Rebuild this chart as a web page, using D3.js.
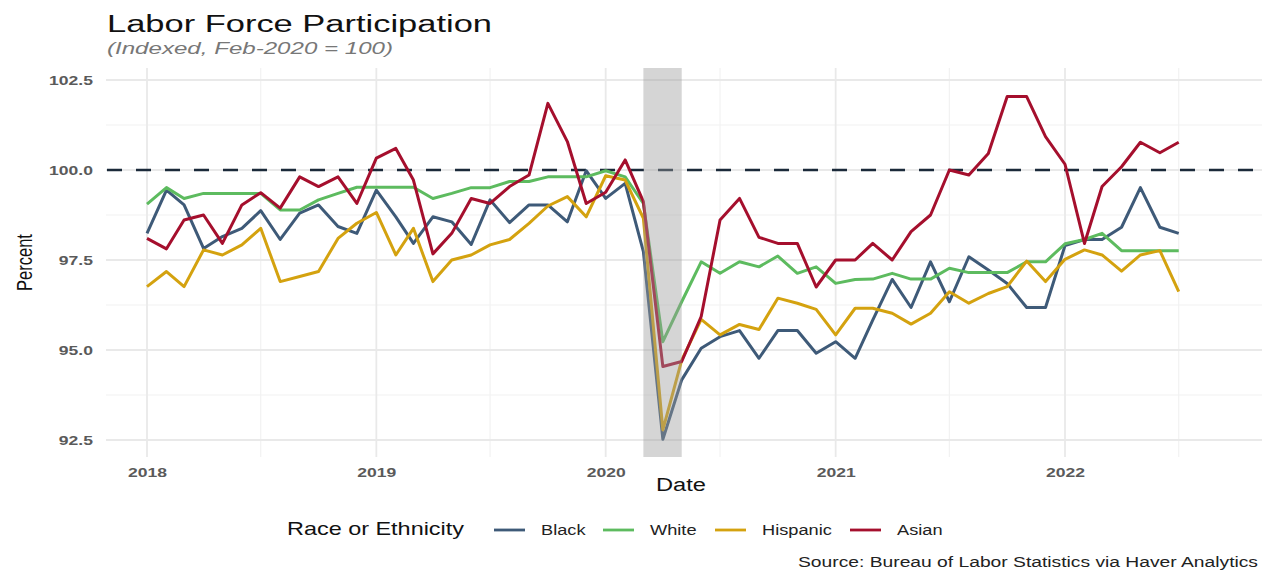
<!DOCTYPE html>
<html>
<head>
<meta charset="utf-8">
<script src="https://cdn.jsdelivr.net/npm/d3@7"></script>
<style>
  html, body { margin: 0; padding: 0; background: #fff; }
  svg { display: block; font-family: "Liberation Sans", Arial, sans-serif; }
</style>
</head>
<body>
<svg id="chart" width="1266" height="572"></svg>
<script>
// ---- Data (monthly, Jan 2018 .. Jul 2022) ----
const startYear = 2018, startMonth = 0, nMonths = 55;
const seriesNames = ["Black", "White", "Hispanic", "Asian"];
const seriesColors = ["#3e5a78", "#5dbb5f", "#d4a20f", "#a50f2d"];

const black = [98.24, 99.44, 99.03, 97.82, 98.15, 98.38, 98.87, 98.07, 98.80, 99.03, 98.43, 98.24,
  99.44, 98.70, 97.96, 98.70, 98.56, 97.93, 99.17, 98.54, 99.03, 99.03, 98.56, 99.98,
  99.21, 99.63, 97.73, 92.52, 94.17, 95.05, 95.37, 95.54, 94.77, 95.54, 95.54, 94.91,
  95.23, 94.77, 95.83, 96.96, 96.18, 97.45, 96.34, 97.59, 97.22, 96.85, 96.18, 96.18,
  97.90, 98.07, 98.07, 98.41, 99.51, 98.41, 98.24];
const white = [99.05, 99.51, 99.21, 99.35, 99.35, 99.35, 99.35, 98.89, 98.89, 99.17, 99.35, 99.52,
  99.52, 99.52, 99.52, 99.21, 99.35, 99.51, 99.51, 99.68, 99.68, 99.81, 99.81, 99.81,
  99.98, 99.81, 99.07, 95.23, 96.34, 97.45, 97.13, 97.45, 97.31, 97.61, 97.13, 97.31,
  96.85, 96.96, 96.97, 97.13, 96.97, 96.97, 97.27, 97.15, 97.15, 97.15, 97.45, 97.45,
  97.95, 98.07, 98.24, 97.76, 97.76, 97.76, 97.76];
const hispanic = [96.76, 97.18, 96.76, 97.78, 97.64, 97.92, 98.38, 96.90, 97.04, 97.18, 98.10, 98.52,
  98.82, 97.64, 98.38, 96.90, 97.50, 97.64, 97.92, 98.07, 98.52, 99.00, 99.26, 98.70,
  99.84, 99.72, 98.66, 92.78, 94.72, 95.85, 95.42, 95.71, 95.57, 96.44, 96.30, 96.13,
  95.42, 96.16, 96.16, 96.02, 95.72, 96.02, 96.62, 96.30, 96.57, 96.76, 97.47, 96.90,
  97.52, 97.78, 97.64, 97.19, 97.64, 97.76, 96.62];
const asian = [98.10, 97.81, 98.61, 98.75, 97.96, 99.03, 99.37, 98.94, 99.81, 99.54, 99.81, 99.07,
  100.33, 100.60, 99.72, 97.67, 98.24, 99.21, 99.07, 99.54, 99.86, 101.85, 100.79, 99.07,
  99.38, 100.28, 99.12, 94.54, 94.68, 95.93, 98.61, 99.21, 98.13, 97.96, 97.96, 96.75,
  97.50, 97.50, 97.96, 97.50, 98.29, 98.75, 100.00, 99.86, 100.46, 102.04, 102.04, 100.93,
  100.16, 97.96, 99.54, 100.09, 100.77, 100.48, 100.77];
const seriesValues = [black, white, hispanic, asian];

const yearTicks = [2018, 2019, 2020, 2021, 2022];
const yTicks = [92.5, 95.0, 97.5, 100.0, 102.5];
const yMinorTicks = [93.75, 96.25, 98.75, 101.25];
const baseline = 100;
const recession = [new Date(2020, 2, 1), new Date(2020, 4, 1)];

const titleText = "Labor Force Participation";
const subtitleText = "(Indexed, Feb-2020 = 100)";
const yLabel = "Percent";
const xLabel = "Date";
const legendTitle = "Race or Ethnicity";
const sourceText = "Source: Bureau of Labor Statistics via Haver Analytics";

// ---- Layout ----
const svg = d3.select("#chart");
const panel = { left: 106, right: 1262, top: 68, bottom: 457 };
const SX = 1.3; // horizontal text stretch of the reference

function stretch(sel, factor) {
  sel.each(function () {
    const w = this.getComputedTextLength();
    d3.select(this).attr("textLength", w * factor).attr("lengthAdjust", "spacingAndGlyphs");
  });
}
function fitTo(sel, width) {
  sel.attr("textLength", width).attr("lengthAdjust", "spacingAndGlyphs");
}

const dates = d3.range(nMonths).map(i => new Date(startYear, startMonth + i, 1));

const xRef = d3.scaleTime()
  .domain([new Date(2018, 0, 1), new Date(2022, 0, 1)])
  .range([147, 1065]);
const x = d3.scaleTime()
  .domain([xRef.invert(panel.left), xRef.invert(panel.right)])
  .range([panel.left, panel.right]);
const y = d3.scaleLinear()
  .domain([100 - (panel.bottom - 170) / 36, 100 + (170 - panel.top) / 36])
  .range([panel.bottom, panel.top]);

// ---- Gridlines ----
const grid = svg.append("g");
const xMinor = yearTicks.map(yr => new Date(yr, 6, 1));
grid.selectAll(".vminor").data(xMinor).join("line")
  .attr("x1", d => x(d)).attr("x2", d => x(d))
  .attr("y1", panel.top).attr("y2", panel.bottom)
  .attr("stroke", "#f2f2f2").attr("stroke-width", 1.2);
grid.selectAll(".hminor").data(yMinorTicks).join("line")
  .attr("x1", panel.left).attr("x2", panel.right)
  .attr("y1", d => y(d)).attr("y2", d => y(d))
  .attr("stroke", "#f2f2f2").attr("stroke-width", 1.2);
grid.selectAll(".vmajor").data(yearTicks).join("line")
  .attr("x1", d => x(new Date(d, 0, 1))).attr("x2", d => x(new Date(d, 0, 1)))
  .attr("y1", panel.top).attr("y2", panel.bottom)
  .attr("stroke", "#e9e9e9").attr("stroke-width", 1.8);
grid.selectAll(".hmajor").data(yTicks).join("line")
  .attr("x1", panel.left).attr("x2", panel.right)
  .attr("y1", d => y(d)).attr("y2", d => y(d))
  .attr("stroke", "#e9e9e9").attr("stroke-width", 1.8);

// ---- Axes (text only, like ggplot theme_minimal) ----
const xAxis = d3.axisBottom(x)
  .tickValues(yearTicks.map(yr => new Date(yr, 0, 1)))
  .tickFormat(d3.timeFormat("%Y")).tickSize(0).tickPadding(10);
const gx = svg.append("g").attr("transform", `translate(0,${panel.bottom})`).call(xAxis);
gx.select(".domain").remove();
gx.selectAll("text").attr("font-size", 13.5).attr("fill", "#5a5a5a")
  .attr("font-family", "Liberation Sans, Arial, sans-serif").attr("font-weight", "bold");
stretch(gx.selectAll("text"), SX);

const yAxis = d3.axisLeft(y).tickValues(yTicks).tickFormat(d3.format(".1f"))
  .tickSize(0).tickPadding(13);
const gy = svg.append("g").attr("transform", `translate(${panel.left},0)`).call(yAxis);
gy.select(".domain").remove();
gy.selectAll("text").attr("font-size", 13.5).attr("fill", "#5a5a5a")
  .attr("font-family", "Liberation Sans, Arial, sans-serif").attr("font-weight", "bold");
stretch(gy.selectAll("text"), SX);

// ---- Baseline ----
svg.append("line")
  .attr("x1", panel.left).attr("x2", panel.right)
  .attr("y1", y(baseline)).attr("y2", y(baseline))
  .attr("stroke", "#1b2a3a").attr("stroke-width", 2.6)
  .attr("stroke-dasharray", "15,14").attr("stroke-dashoffset", -1);

// ---- Lines ----
const line = d3.line().x((d, i) => x(dates[i])).y(d => y(d));
svg.append("g").selectAll("path").data(seriesValues).join("path")
  .attr("d", d => line(d))
  .attr("fill", "none")
  .attr("stroke", (d, i) => seriesColors[i])
  .attr("stroke-width", 3)
  .attr("stroke-linejoin", "round");

// ---- Recession shading ----
svg.append("rect")
  .attr("x", x(recession[0])).attr("width", x(recession[1]) - x(recession[0]))
  .attr("y", panel.top).attr("height", panel.bottom - panel.top)
  .attr("fill", "#9a9a9a").attr("opacity", 0.42);

// ---- Titles ----
fitTo(svg.append("text").attr("x", 107).attr("y", 31.5)
  .attr("font-size", 23.5).attr("fill", "#111").text(titleText), 385);
fitTo(svg.append("text").attr("x", 107).attr("y", 54)
  .attr("font-size", 16).attr("font-style", "italic").attr("fill", "#777").text(subtitleText), 286);

svg.append("text")
  .attr("transform", `translate(32,${(panel.top + panel.bottom) / 2}) scale(1.3,1) rotate(-90)`)
  .attr("text-anchor", "middle")
  .attr("font-size", 16.5).attr("fill", "#111").text(yLabel);

fitTo(svg.append("text").attr("x", 681).attr("y", 491)
  .attr("text-anchor", "middle").attr("font-size", 18).attr("fill", "#111").text(xLabel), 50);

// ---- Legend ----
const legend = svg.append("g");
fitTo(legend.append("text").attr("x", 287).attr("y", 535)
  .attr("font-size", 18.5).attr("fill", "#111").text(legendTitle), 177);
const legendX = [494, 603, 715, 850];
const items = legend.selectAll(".item").data(seriesNames).join("g")
  .attr("transform", (d, i) => `translate(${legendX[i]},0)`);
items.append("line").attr("x1", 0).attr("x2", 31).attr("y1", 530).attr("y2", 530)
  .attr("stroke", (d, i) => seriesColors[i]).attr("stroke-width", 2.8);
const itemText = items.append("text").attr("x", 47).attr("y", 535)
  .attr("font-size", 14).attr("fill", "#222").text(d => d);
stretch(itemText, SX);

fitTo(svg.append("text").attr("x", 1258).attr("y", 567).attr("text-anchor", "end")
  .attr("font-size", 14).attr("fill", "#222").text(sourceText), 460);
</script>
</body>
</html>
